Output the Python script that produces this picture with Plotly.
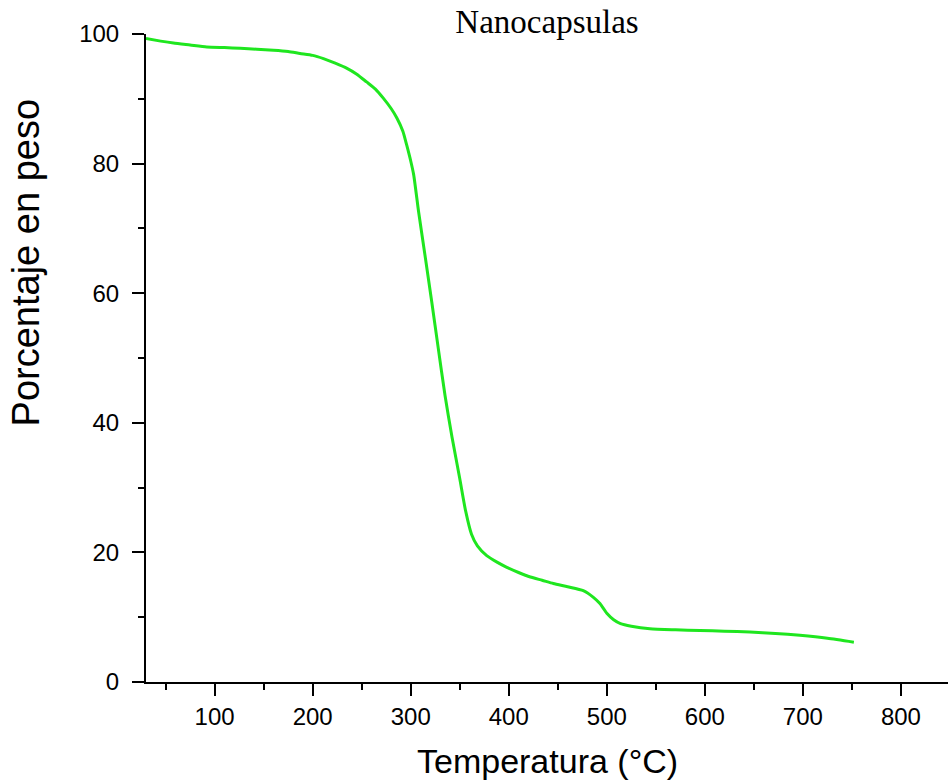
import plotly.graph_objects as go

temperatura = [30, 45, 58, 75, 92, 110, 126, 143, 160, 175, 187, 200, 211, 223, 235, 245, 255, 264,
               272, 280, 286, 292, 296, 300, 303, 308, 315, 321.5, 328, 335, 342, 350, 356,
               362, 368, 377.5, 388, 398, 410, 422, 434, 445.5, 460, 476, 486, 493, 500, 507, 514,
               525, 544, 570, 595, 620, 646, 672, 697, 725, 752]
peso = [99.3, 98.9, 98.6, 98.3, 98.0, 97.9, 97.8, 97.65, 97.5, 97.3, 97.0, 96.7, 96.2, 95.5, 94.7,
        93.8, 92.6, 91.5, 90.1, 88.5, 87.0, 85.0, 82.8, 80.4, 78.3, 72.6, 65.4, 58.6, 51.6, 44.2,
        37.9, 31.4, 26.4, 22.8, 21.0, 19.5, 18.5, 17.7, 16.9, 16.2, 15.7, 15.2, 14.7, 14.1,
        13.1, 12.1, 10.6, 9.6, 9.0, 8.6, 8.2, 8.05, 7.95, 7.85, 7.7, 7.5, 7.2, 6.75, 6.15]

x_ticks = [100, 200, 300, 400, 500, 600, 700, 800]
y_ticks = [0, 20, 40, 60, 80, 100]

fig = go.Figure()
fig.add_trace(go.Scatter(x=temperatura, y=peso, mode="lines",
                         line=dict(color="#1FE61F", width=3, shape="spline", smoothing=0.6),
                         showlegend=False, hoverinfo="skip"))

axis_common = dict(showgrid=False, zeroline=False, showline=True, linecolor="black", linewidth=2,
                   ticks="outside", ticklen=12, tickwidth=2, tickcolor="black",
                   tickfont=dict(family="Liberation Sans, Arial", size=24, color="black"))

fig.update_layout(
    width=948, height=784,
    margin=dict(l=146, r=0, t=34, b=102),
    plot_bgcolor="white", paper_bgcolor="white",
    title=dict(text="Nanocapsulas", x=0.5, xref="paper", xanchor="center",
               y=1 - 21 / 784, yref="container", yanchor="middle",
               font=dict(family="Liberation Serif, Times New Roman", size=33, color="black")),
    xaxis=dict(range=[30, 848], tickvals=x_ticks,
               minor=dict(dtick=50, tick0=0, ticks="outside", ticklen=6, tickwidth=2, tickcolor="black"),
               ticklabelstandoff=0,
               **axis_common),
    yaxis=dict(range=[0, 100], tickvals=y_ticks,
               minor=dict(dtick=10, tick0=0, ticks="outside", ticklen=6, tickwidth=2, tickcolor="black"),
               ticklabelstandoff=8,
               **axis_common),
    annotations=[
        dict(text="Temperatura (°C)", xref="paper", yref="paper", x=0.5, y=-0.122,
             xanchor="center", yanchor="middle", showarrow=False,
             font=dict(family="Liberation Sans, Arial", size=34, color="black")),
        dict(text="Porcentaje en peso", xref="paper", yref="paper", x=-0.1496, y=0.646,
             xanchor="center", yanchor="middle", showarrow=False, textangle=-90,
             font=dict(family="Liberation Sans, Arial", size=38, color="black")),
    ],
)

fig.write_html("out.html")
